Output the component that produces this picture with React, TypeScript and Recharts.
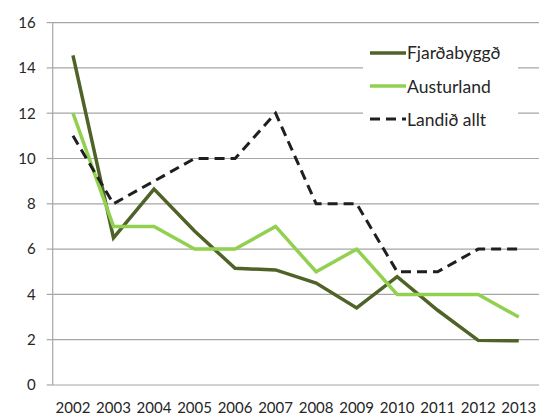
import { LineChart, Line, XAxis, YAxis, CartesianGrid, Legend } from 'recharts'

const YEARS = ['2002', '2003', '2004', '2005', '2006', '2007', '2008', '2009', '2010', '2011', '2012', '2013']
const FJARDABYGGD = [14.55, 6.5, 8.65, 6.8, 5.15, 5.08, 4.5, 3.4, 4.78, 3.3, 1.97, 1.95]
const AUSTURLAND = [12, 7, 7, 6, 6, 7, 5, 6, 4, 4, 4, 3]
const LANDID = [11, 8, 9, 10, 10, 12, 8, 8, 5, 5, 6, 6]
const Y_TICKS = [0, 2, 4, 6, 8, 10, 12, 14, 16]
const EDGE_TICKS = YEARS.map((_, i) => i).concat(YEARS.length)

const COLOR_DARK = '#4f6228'
const COLOR_LIGHT = '#92d050'
const COLOR_DASH = '#1f1f1f'
const GRID = '#a6a6a6'
const TEXT = '#262626'
const FONT = 'Lato, "Open Sans", sans-serif'

const data = YEARS.map((year, i) => ({
  year,
  idx: i + 0.5,
  fjardabyggd: FJARDABYGGD[i],
  austurland: AUSTURLAND[i],
  landid: LANDID[i],
}))

const SERIES = [
  { key: 'fjardabyggd', name: 'Fjarðabyggð', color: COLOR_DARK, dash: '' },
  { key: 'austurland', name: 'Austurland', color: COLOR_LIGHT, dash: '' },
  { key: 'landid', name: 'Landið allt', color: COLOR_DASH, dash: '10 6' },
]

function LegendBox() {
  return (
    <div style={{ background: '#fff', padding: '0 0 0 7px', height: 106, boxSizing: 'border-box', fontFamily: FONT, fontSize: 17.5, color: TEXT }}>
      {SERIES.map((s) => (
        <div key={s.key} style={{ display: 'flex', alignItems: 'center', height: 33.4 }}>
          <svg width={36} height={8} style={{ marginRight: 1 }}>
            <line
              x1={0}
              y1={4}
              x2={36}
              y2={4}
              stroke={s.color}
              strokeWidth={s.dash ? 3 : 3.5}
              strokeDasharray={s.dash ? '10 6' : undefined}
            />
          </svg>
          <span>{s.name}</span>
        </div>
      ))}
    </div>
  )
}

export default function App() {
  const band = (539 - 52.7) / YEARS.length
  return (
    <div style={{ position: 'absolute', left: 0, top: 0, width: 545, height: 418, background: '#fff' }}>
      <LineChart width={545} height={418} data={data} margin={{ top: 22.6, right: 6, left: 0, bottom: 0 }}>
        <CartesianGrid vertical={false} stroke={GRID} strokeWidth={1.2} />
        <XAxis
          dataKey="year"
          padding={{ left: band / 2, right: band / 2 }}
          axisLine={false}
          tickLine={false}
          tickSize={0}
          tickMargin={17}
          height={33}
          interval={0}
          tick={{ fill: TEXT, fontSize: 15, fontFamily: FONT }}
        />
        <XAxis
          xAxisId="edges"
          type="number"
          dataKey="idx"
          domain={[0, YEARS.length]}
          ticks={EDGE_TICKS}
          interval={0}
          tick={false}
          tickSize={6}
          height={0}
          stroke={GRID}
          tickLine={{ stroke: GRID, strokeWidth: 1.2 }}
          axisLine={{ stroke: GRID, strokeWidth: 1.2 }}
          orientation="bottom"
        />
        <YAxis
          domain={[0, 16]}
          ticks={Y_TICKS}
          interval={0}
          width={52.7}
          tickSize={6}
          tickMargin={11}
          axisLine={{ stroke: GRID, strokeWidth: 1.2 }}
          tickLine={{ stroke: GRID, strokeWidth: 1.2 }}
          tick={{ fill: TEXT, fontSize: 15, fontFamily: FONT }}
        />
        <Legend
          content={<LegendBox />}
          layout="horizontal"
          align="center"
          verticalAlign="middle"
          wrapperStyle={{ position: 'absolute', top: 36, left: 363, width: 155, height: 106 }}
        />
        {SERIES.map((s) => (
          <Line
            key={s.key}
            type="linear"
            dataKey={s.key}
            name={s.name}
            stroke={s.color}
            strokeWidth={s.dash ? 3 : 3.5}
            strokeDasharray={s.dash || undefined}
            dot={false}
            activeDot={false}
            isAnimationActive={false}
          />
        ))}
      </LineChart>
    </div>
  )
}
